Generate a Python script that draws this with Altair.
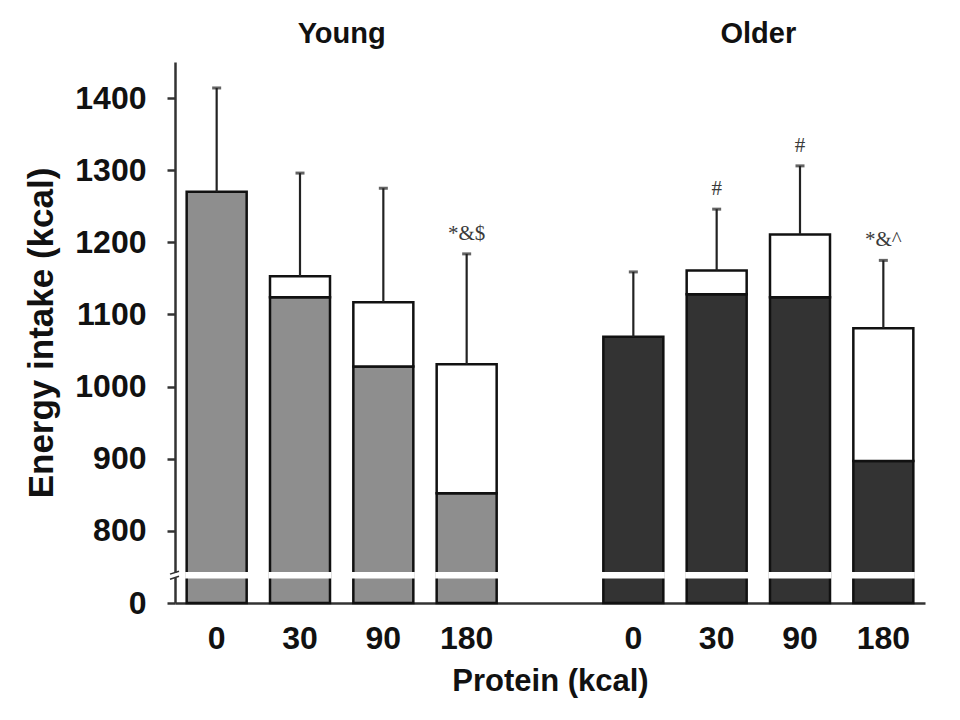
import altair as alt
import pandas as pd

# ---- data ----
groups = ["Young", "Older"]
protein = ["0", "30", "90", "180"]

young_base = [1270, 1124, 1028, 852]     # intake excluding protein preload
young_total = [1270, 1153, 1117, 1031]   # total energy intake
young_err = [1414, 1296, 1275, 1184]     # mean + SD

older_base = [1069, 1128, 1124, 897]
older_total = [1069, 1161, 1211, 1081]
older_err = [1159, 1246, 1306, 1175]

young_notes = ["", "", "", "*&$"]
older_notes = ["", "#", "#", "*&^"]

group_colors = ["#8e8e8e", "#333333"]

y_ticks = [700, 800, 900, 1000, 1100, 1200, 1300, 1400]
AXIS_FLOOR = 700          # broken axis: this position is labelled "0"
AXIS_TOP = 1450
BREAK_LO, BREAK_HI = 736, 741

# ---- build table ----
base_vals = {"Young": young_base, "Older": older_base}
total_vals = {"Young": young_total, "Older": older_total}
err_vals = {"Young": young_err, "Older": older_err}
note_vals = {"Young": young_notes, "Older": older_notes}

rows = []
for g in groups:
    for i, p in enumerate(protein):
        rows.append({
            "key": f"{g}-{p}", "group": g, "protein": p,
            "floor": AXIS_FLOOR, "base": base_vals[g][i],
            "total": total_vals[g][i], "err": err_vals[g][i],
            "note": note_vals[g][i],
        })
df = pd.DataFrame(rows)

x_domain = [f"Young-{p}" for p in protein] + ["gap"] + [f"Older-{p}" for p in protein]

titles_df = pd.DataFrame({"group": groups, "key": [f"{g}-{protein[1]}" for g in groups]})

x_scale = alt.Scale(domain=x_domain, paddingInner=0.28, paddingOuter=0.14)
y_scale = alt.Scale(domain=[AXIS_FLOOR, AXIS_TOP], nice=False, zero=False)

LABEL_FONT = "Liberation Sans Narrow, Arial Narrow, Liberation Sans, Arial"

x_enc = alt.X(
    "key:N", scale=x_scale,
    axis=alt.Axis(
        title="Protein (kcal)",
        labelExpr="indexof(datum.value, '-') > 0 ? split(datum.value, '-')[1] : ''",
        ticks=False, labelAngle=0, labelPadding=20,
        labelFont=LABEL_FONT, labelFontSize=32,
        labelFontWeight="bold", labelColor="#111",
        titleFont="Liberation Sans, Arial", titleFontSize=31, titleFontWeight="bold",
        titleColor="#111", titlePadding=12,
        domainWidth=2.5, domainColor="#333",
    ),
)

y_axis = alt.Axis(
    values=y_ticks,
    labelExpr=f"datum.value == {AXIS_FLOOR} ? '0' : format(datum.value, 'd')",
    title="Energy intake (kcal)", grid=False,
    tickSize=8, tickWidth=2.5, tickColor="#333",
    domainWidth=2.5, domainColor="#333",
    labelFont=LABEL_FONT, labelFontSize=32,
    labelFontWeight="bold", labelColor="#111", labelPadding=21,
    titleFont="Liberation Sans, Arial", titleFontSize=35, titleFontWeight="bold",
    titleColor="#111", titlePadding=15,
)

color = alt.Color("group:N", scale=alt.Scale(domain=groups, range=group_colors), legend=None)

base = alt.Chart(df)

lower = base.mark_bar(stroke="#111", strokeWidth=2.5).encode(
    x=x_enc,
    y=alt.Y("floor:Q", scale=y_scale, axis=y_axis),
    y2="base:Q",
    fill=color,
)

upper = base.transform_filter("datum.total > datum.base").mark_bar(
    fill="white", stroke="#111", strokeWidth=2.5
).encode(x="key:N", y="base:Q", y2="total:Q")

break_band = base.mark_bar(fill="white", stroke="white", strokeWidth=3).encode(
    x="key:N", y=alt.datum(BREAK_LO), y2=alt.datum(BREAK_HI)
)

err_rule = base.mark_rule(color="#222", strokeWidth=2.2).encode(
    x="key:N", y="total:Q", y2="err:Q"
)
err_cap = base.mark_tick(color="#222", size=9, thickness=3).encode(
    x="key:N", y="err:Q"
)

notes = base.transform_filter("datum.note != ''").mark_text(
    font="Liberation Serif, Times New Roman", fontSize=21, color="#3a3a3a",
    dy=-20, baseline="middle"
).encode(x="key:N", y="err:Q", text="note:N")

group_titles = alt.Chart(titles_df).mark_text(
    font="Liberation Sans, Arial", fontSize=29, fontWeight="bold", color="#111",
    dx=41.7, baseline="alphabetic"
).encode(x="key:N", y=alt.value(-19), text="group:N")

# white gap over the y-axis line and the two slanted break marks
axis_gap = alt.Chart(pd.DataFrame({"a": [0]})).mark_rect(fill="white").encode(
    x=alt.value(-4), x2=alt.value(4), y=alt.datum(BREAK_LO - 1), y2=alt.datum(BREAK_HI + 1)
)
break_marks = alt.Chart(pd.DataFrame({"lo": [BREAK_LO - 3, BREAK_HI - 1], "hi": [BREAK_LO + 1, BREAK_HI + 3]})).mark_rule(
    color="#333", strokeWidth=1.5
).encode(x=alt.value(-5), x2=alt.value(4), y=alt.Y("lo:Q"), y2="hi:Q")

chart = alt.layer(
    lower, upper, break_band, err_rule, err_cap, notes, group_titles, axis_gap, break_marks
).properties(
    width=750, height=541,
    background="white",
    autosize=alt.AutoSizeParams(type="none"),
    padding={"left": 167, "top": 54, "right": 10, "bottom": 100},
).configure_view(strokeWidth=0, stroke="transparent")

chart.save("out.html", embed_options={"renderer": "svg", "actions": False})
